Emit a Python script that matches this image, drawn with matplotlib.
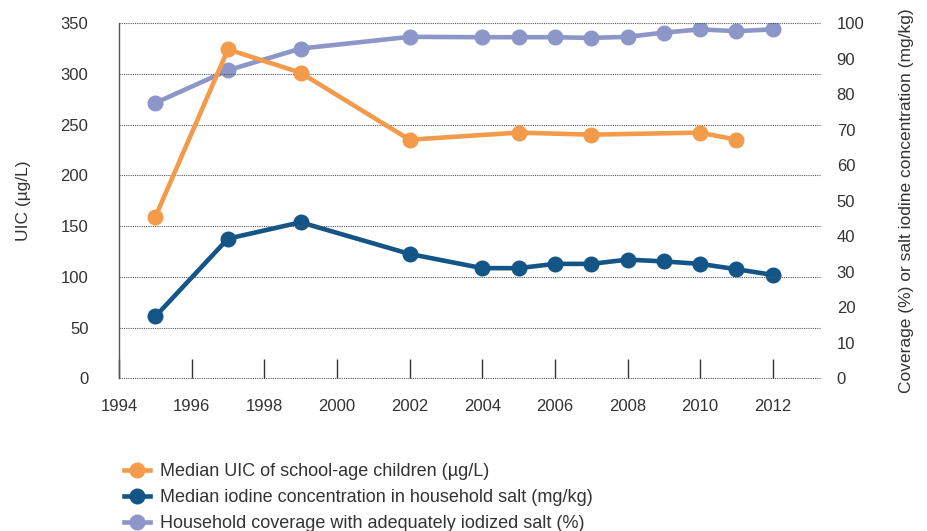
import matplotlib
matplotlib.use("Agg")
import matplotlib.pyplot as plt
from matplotlib.lines import Line2D

plt.rcParams['font.family'] = ['Liberation Sans', 'DejaVu Sans']

years_uic = [1995, 1997, 1999, 2002, 2005, 2007, 2010, 2011]
uic = [159, 324, 301, 235, 242, 240, 242, 235]

years_salt = [1995, 1997, 1999, 2002, 2004, 2005, 2006, 2007, 2008, 2009, 2010, 2011, 2012]
salt_conc = [17.4, 39.3, 43.9, 35.0, 31.0, 31.0, 32.2, 32.2, 33.4, 32.9, 32.2, 30.7, 29.1]
coverage = [77.5, 86.7, 92.8, 96.1, 96.0, 96.0, 96.0, 95.8, 96.1, 97.3, 98.2, 97.7, 98.2]

x_ticks = list(range(1994, 2013, 2))
left_ticks = list(range(0, 351, 50))
right_ticks = list(range(0, 101, 10))

labels = ["Median UIC of school-age children (\u00b5g/L)",
          "Median iodine concentration in household salt (mg/kg)",
          "Household coverage with adequately iodized salt (%)"]

c_orange = "#F39A4B"
c_blue = "#145587"
c_purple = "#8D96C8"
txt = "#333333"

fig = plt.figure(figsize=(9.27, 5.31), dpi=100)
ax = fig.add_axes([0.1284, 0.2876, 0.7562, 0.6691])
ax2 = ax.twinx()
ax.set_zorder(ax2.get_zorder() + 1)
ax.patch.set_visible(False)

lw = 3.3
ms = 10.5
ax2.plot(years_salt, coverage, color=c_purple, lw=lw, marker='o', ms=ms, zorder=3)
ax2.plot(years_salt, salt_conc, color=c_blue, lw=lw, marker='o', ms=ms, zorder=3)
ax.plot(years_uic, uic, color=c_orange, lw=lw, marker='o', ms=ms, zorder=3)

ax.set_xlim(1994, 2013.3)
ax.set_ylim(0, 350)
ax2.set_ylim(0, 100)
ax.set_xticks(x_ticks)
ax.set_yticks(left_ticks)
ax2.set_yticks(right_ticks)

# dotted horizontal grid at each left-axis tick
ax.hlines(left_ticks, 0, 1, transform=ax.get_yaxis_transform(),
          colors='#555555', linestyles=(0, (1, 1)), linewidth=0.8,
          zorder=1, clip_on=False)

for a in (ax, ax2):
    for s in ('top', 'right', 'bottom'):
        a.spines[s].set_visible(False)
ax2.spines['left'].set_visible(False)
ax.spines['left'].set_color('#555555')
ax.spines['left'].set_linewidth(1.0)

ax.tick_params(axis='y', length=0, labelsize=12, labelcolor=txt, pad=22)
ax2.tick_params(axis='y', length=0, labelsize=12, labelcolor=txt, pad=12)
ax.tick_params(axis='x', direction='in', length=14, width=1.0, color='#333333',
               labelsize=12, labelcolor=txt, pad=15)

ax.set_ylabel("UIC (\u00b5g/L)", fontsize=12.5, color=txt, labelpad=21)
ax2.set_ylabel("Coverage (%) or salt iodine concentration (mg/kg)", fontsize=12.5,
               color=txt, labelpad=25)

handles = [Line2D([], [], color=c, lw=lw, marker='o', ms=ms)
           for c in (c_orange, c_blue, c_purple)]
fig.legend(handles, labels, loc='upper left', bbox_to_anchor=(0.124, 0.145),
           frameon=False, fontsize=13, labelcolor=txt, handlelength=1.45,
           handletextpad=0.55, labelspacing=0.5, borderpad=0)

fig.savefig("out.png", dpi=100)
